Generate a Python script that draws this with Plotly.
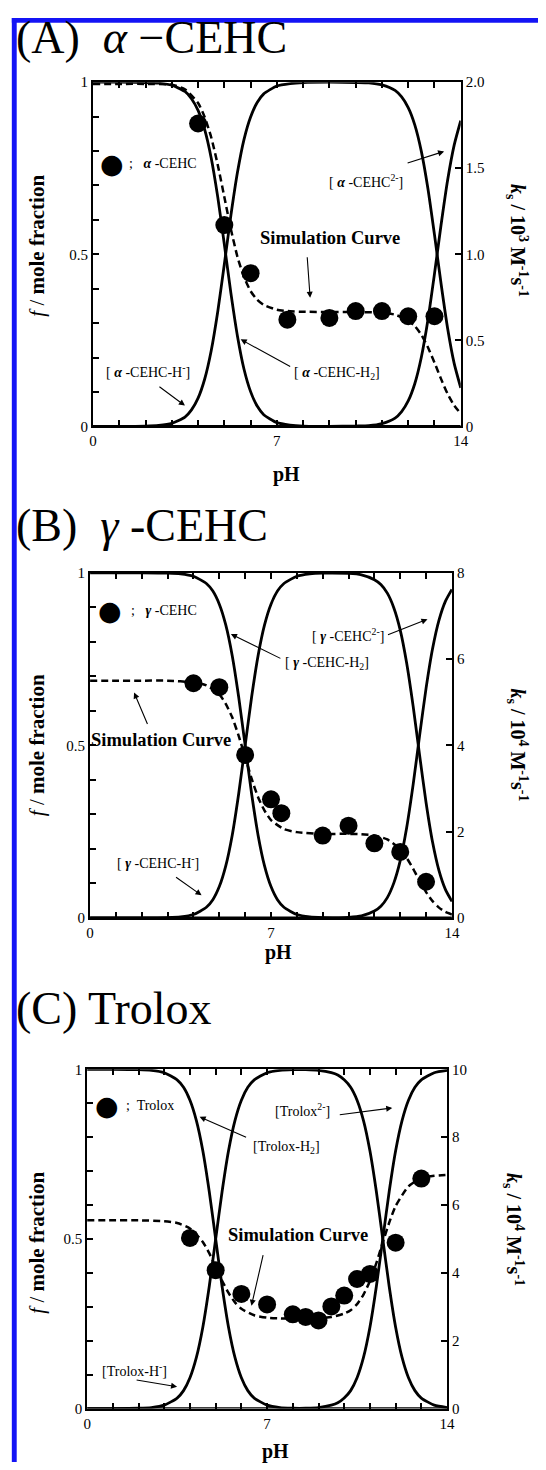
import plotly.graph_objects as go

W, H = 546, 1470
SERIF = "Liberation Serif"

# ---------------- Panel A: alpha-CEHC ----------------
A_grid = [0, 1, 2, 2.5, 3, 3.5, 3.75, 4, 4.25, 4.5, 4.75, 5, 5.25, 5.5, 5.75, 6, 6.25, 6.5, 7, 7.5, 8, 9,
          10, 10.5, 11, 11.5, 11.75, 12, 12.25, 12.5, 12.75, 13, 13.25, 13.5, 13.75, 14]
A_H2 = [1.0, 1.0, 0.999, 0.997, 0.991, 0.973, 0.952, 0.918, 0.863, 0.780, 0.666, 0.529, 0.387, 0.262, 0.166,
        0.101, 0.059, 0.034, 0.011, 0.004, 0.001, 0, 0, 0, 0, 0, 0, 0, 0, 0, 0, 0, 0, 0, 0, 0]
A_Hm = [0, 0, 0.001, 0.003, 0.009, 0.027, 0.048, 0.082, 0.137, 0.220, 0.334, 0.471, 0.613, 0.738, 0.834,
        0.899, 0.941, 0.966, 0.989, 0.996, 0.999, 1.0, 0.999, 0.998, 0.992, 0.976, 0.957, 0.926, 0.876,
        0.799, 0.691, 0.557, 0.415, 0.285, 0.183, 0.112]
A_2m = [0, 0, 0, 0, 0, 0, 0, 0, 0, 0, 0, 0, 0, 0, 0, 0, 0, 0, 0, 0, 0, 0, 0.001, 0.002, 0.008, 0.024, 0.043,
        0.074, 0.124, 0.201, 0.309, 0.443, 0.585, 0.715, 0.817, 0.888]
A_sim_ph = [0, 1, 2, 3, 3.5, 4, 4.25, 4.5, 4.75, 5, 5.25, 5.5, 5.75, 6, 6.25, 6.5, 7, 7.5, 8, 9, 10, 11,
            11.5, 12, 12.25, 12.5, 12.75, 13, 13.25, 13.5, 13.75, 14]
A_sim_k = [1.99, 1.99, 1.99, 1.985, 1.959, 1.879, 1.798, 1.680, 1.519, 1.333, 1.146, 0.985, 0.867, 0.786,
           0.736, 0.706, 0.678, 0.669, 0.666, 0.665, 0.665, 0.660, 0.649, 0.616, 0.583, 0.532, 0.460,
           0.371, 0.276, 0.189, 0.122, 0.074]
A_ph = [4, 5, 6, 7.4, 9, 10, 11, 12, 13]
A_k = [1.76, 1.17, 0.89, 0.62, 0.63, 0.67, 0.67, 0.64, 0.64]

# ---------------- Panel B: gamma-CEHC ----------------
B_grid = [0, 1, 2, 3, 3.5, 4, 4.5, 4.75, 5, 5.25, 5.5, 5.75, 6, 6.25, 6.5, 6.75, 7, 7.25, 7.5, 8, 8.5, 9,
          10, 10.5, 11, 11.25, 11.5, 11.75, 12, 12.25, 12.5, 12.75, 13, 13.25, 13.5, 13.75, 14]
B_H2 = [1.0, 1.0, 1.0, 0.999, 0.997, 0.990, 0.969, 0.947, 0.909, 0.849, 0.760, 0.640, 0.5, 0.360, 0.240,
        0.151, 0.091, 0.053, 0.031, 0.010, 0.003, 0.001, 0, 0, 0, 0, 0, 0, 0, 0, 0, 0, 0, 0, 0, 0, 0]
B_Hm = [0, 0, 0, 0.001, 0.003, 0.010, 0.031, 0.053, 0.091, 0.151, 0.240, 0.360, 0.5, 0.640, 0.760, 0.849,
        0.909, 0.947, 0.969, 0.990, 0.997, 0.999, 0.998, 0.994, 0.980, 0.966, 0.941, 0.899, 0.834, 0.738,
        0.613, 0.471, 0.334, 0.220, 0.137, 0.082, 0.048]
B_2m = [0, 0, 0, 0, 0, 0, 0, 0, 0, 0, 0, 0, 0, 0, 0, 0, 0, 0, 0, 0, 0, 0, 0.002, 0.006, 0.020, 0.034,
        0.059, 0.101, 0.166, 0.262, 0.387, 0.529, 0.666, 0.780, 0.863, 0.918, 0.952]
B_sim_ph = [0, 1, 2, 3, 4, 4.5, 5, 5.25, 5.5, 5.75, 6, 6.25, 6.5, 6.75, 7, 7.5, 8, 9, 10, 10.5, 11, 11.5,
            12, 12.25, 12.5, 12.75, 13, 13.25, 13.5, 13.75, 14]
B_sim_k = [5.50, 5.50, 5.50, 5.50, 5.46, 5.39, 5.18, 4.96, 4.65, 4.22, 3.73, 3.23, 2.80, 2.49, 2.27, 2.06,
           1.99, 1.95, 1.95, 1.94, 1.91, 1.82, 1.59, 1.39, 1.14, 0.86, 0.60, 0.39, 0.24, 0.14, 0.08]
B_ph = [4, 5, 6, 7, 7.4, 9, 10, 11, 12, 13]
B_k = [5.44, 5.35, 3.78, 2.75, 2.43, 1.91, 2.14, 1.73, 1.53, 0.84]

# ---------------- Panel C: Trolox ----------------
C_grid = [0, 1, 2, 2.5, 3, 3.5, 3.75, 4, 4.25, 4.5, 4.75, 5, 5.25, 5.5, 5.75, 6, 6.25, 6.5, 7, 7.5, 8, 8.5,
          9, 9.5, 9.75, 10, 10.25, 10.5, 10.75, 11, 11.25, 11.5, 11.75, 12, 12.25, 12.5, 12.75, 13, 13.5, 14]
C_H2 = [1.0, 1.0, 0.999, 0.997, 0.990, 0.969, 0.947, 0.909, 0.849, 0.760, 0.640, 0.5, 0.360, 0.240, 0.151,
        0.091, 0.053, 0.031, 0.010, 0.003, 0.001, 0, 0, 0, 0, 0, 0, 0, 0, 0, 0, 0, 0, 0, 0, 0, 0, 0, 0, 0]
C_Hm = [0, 0, 0.001, 0.003, 0.010, 0.031, 0.053, 0.091, 0.151, 0.240, 0.360, 0.5, 0.640, 0.760, 0.849,
        0.909, 0.947, 0.969, 0.990, 0.997, 0.999, 0.999, 0.997, 0.990, 0.983, 0.969, 0.947, 0.909, 0.849,
        0.760, 0.640, 0.5, 0.360, 0.240, 0.151, 0.091, 0.053, 0.031, 0.010, 0.003]
C_2m = [0, 0, 0, 0, 0, 0, 0, 0, 0, 0, 0, 0, 0, 0, 0, 0, 0, 0, 0, 0, 0, 0.001, 0.003, 0.010, 0.017, 0.031,
        0.053, 0.091, 0.151, 0.240, 0.360, 0.5, 0.640, 0.760, 0.849, 0.909, 0.947, 0.969, 0.990, 0.997]
C_sim_ph = [0, 1, 2, 3, 3.5, 4, 4.5, 4.75, 5, 5.25, 5.5, 5.75, 6, 6.5, 7, 7.5, 8, 8.5, 9, 9.5, 10, 10.25,
            10.5, 10.75, 11, 11.25, 11.5, 11.75, 12, 12.5, 13, 13.5, 14]
C_sim_k = [5.55, 5.55, 5.55, 5.52, 5.47, 5.31, 4.91, 4.58, 4.18, 3.77, 3.41, 3.13, 2.94, 2.75, 2.68, 2.66,
           2.65, 2.65, 2.66, 2.70, 2.80, 2.90, 3.08, 3.36, 3.76, 4.29, 4.90, 5.48, 5.97, 6.55, 6.79, 6.86,
           6.89]
C_ph = [4, 5, 6, 7, 8, 8.5, 9, 9.5, 10, 10.5, 11, 12, 13]
C_k = [5.03, 4.08, 3.38, 3.07, 2.78, 2.70, 2.60, 3.01, 3.33, 3.82, 3.97, 4.89, 6.78]

# ---------------- layout geometry (pixels) ----------------
panels = [
    dict(box=(91, 467, 75, 423), kmax=2.0, kticks=[0, 0.5, 1.0, 1.5, 2.0],
         ktext=["0", "0.5", "1.0", "1.5", "2.0"],
         grid=A_grid, H2=A_H2, Hm=A_Hm, D=A_2m, sph=A_sim_ph, sk=A_sim_k, ph=A_ph, k=A_k),
    dict(box=(88, 458, 571, 920), kmax=8, kticks=[0, 2, 4, 6, 8],
         ktext=["0", "2", "4", "6", "8"],
         grid=B_grid, H2=B_H2, Hm=B_Hm, D=B_2m, sph=B_sim_ph, sk=B_sim_k, ph=B_ph, k=B_k),
    dict(box=(85, 453, 1073, 1416), kmax=10, kticks=[0, 2, 4, 6, 8, 10],
         ktext=["0", "2", "4", "6", "8", "10"],
         grid=C_grid, H2=C_H2, Hm=C_Hm, D=C_2m, sph=C_sim_ph, sk=C_sim_k, ph=C_ph, k=C_k),
]


def px(x):
    return x / W


def py(y):
    return 1 - y / H


fig = go.Figure()
layout = dict(width=W, height=H, margin=dict(l=0, r=0, t=0, b=0), paper_bgcolor="white",
              plot_bgcolor="white", showlegend=False, font=dict(family=SERIF, color="black"))

tickfont = dict(family=SERIF, size=15, color="black")
for i, p in enumerate(panels):
    xn = "x" if i == 0 else f"x{i + 1}"
    yf = 2 * i + 1
    yk = 2 * i + 2
    yfn = "y" if yf == 1 else f"y{yf}"
    ykn = f"y{yk}"
    x0, x1, y0, y1 = p["box"]
    layout["xaxis" + ("" if i == 0 else str(i + 1))] = dict(
        domain=[px(x0), px(x1)], anchor=yfn, range=[0, 14], showgrid=False, zeroline=False,
        showline=True, linecolor="black", linewidth=2, mirror="ticks", ticks="inside", ticklen=6,
        tickwidth=1.5, tickcolor="black", tickvals=list(range(15)),
        ticktext=["0" if v == 0 else "7" if v == 7 else "14" if v == 14 else "" for v in range(15)],
        tickfont=tickfont, fixedrange=True)
    layout["yaxis" + ("" if yf == 1 else str(yf))] = dict(
        domain=[py(y1), py(y0)], anchor=xn, range=[0, 1], showgrid=False, zeroline=False,
        showline=True, linecolor="black", linewidth=2, ticks="inside", ticklen=6, tickwidth=1.5,
        tickcolor="black", tickvals=[j / 10 for j in range(11)],
        ticktext=["0" if j == 0 else "0.5" if j == 5 else "1" if j == 10 else "" for j in range(11)],
        tickfont=tickfont, fixedrange=True)
    layout["yaxis" + str(yk)] = dict(
        domain=[py(y1), py(y0)], anchor=xn, overlaying=yfn, side="right", range=[0, p["kmax"]],
        showgrid=False, zeroline=False, showline=True, linecolor="black", linewidth=2,
        ticks="inside", ticklen=6, tickwidth=1.5, tickcolor="black", tickvals=p["kticks"],
        ticktext=p["ktext"], tickfont=tickfont, fixedrange=True)

    for arr in (p["H2"], p["Hm"], p["D"]):
        fig.add_trace(go.Scatter(x=p["grid"], y=arr, mode="lines", xaxis=xn, yaxis=yfn,
                                 line=dict(color="black", width=2.8, shape="spline", smoothing=0.6),
                                 hoverinfo="skip"))
    fig.add_trace(go.Scatter(x=p["sph"], y=p["sk"], mode="lines", xaxis=xn, yaxis=ykn,
                             line=dict(color="black", width=2.5, dash="7px,4px", shape="spline",
                                       smoothing=0.6), hoverinfo="skip"))
    fig.add_trace(go.Scatter(x=p["ph"], y=p["k"], mode="markers", xaxis=xn, yaxis=ykn,
                             marker=dict(color="black", size=18, line=dict(width=0))))

fig.update_layout(**layout)

ann = []


def text(t, x, y, size=14, xanchor="center", angle=0, family=SERIF):
    ann.append(dict(text=t, x=px(x), y=py(y), xref="paper", yref="paper", showarrow=False,
                    xanchor=xanchor, yanchor="middle", textangle=angle,
                    font=dict(family=family, size=size, color="black")))


def arrow(tx, ty, hx, hy):
    ann.append(dict(text="", x=px(hx), y=py(hy), xref="paper", yref="paper", showarrow=True,
                    ax=tx - hx, ay=ty - hy, arrowhead=2, arrowsize=1.1, arrowwidth=1.1,
                    arrowcolor="black"))


# titles
text("(A)  <i>α</i> −CEHC", 10, 30, size=46, xanchor="left")
text("(B)  <i>γ</i> -CEHC", 10, 523, size=46, xanchor="left")
text("(C) Trolox", 10, 1012, size=46, xanchor="left")

# axis titles
for cy in (240, 745, 1248):
    text("<i>f</i> / <b>mole fraction</b>", 34, cy, size=21, angle=-90)
for (ky, kx, kexp) in [(235, 524, "3"), (745, 525, "4"), (1235, 521, "4")]:
    text("<b><i>k</i><sub>s</sub> / 10<sup>%s</sup> M<sup>-1</sup>s<sup>-1</sup></b>" % kexp, kx, ky,
         size=20, angle=90)
text("<b>pH</b>", 289, 472, size=20)
text("<b>pH</b>", 281, 955, size=20)
text("<b>pH</b>", 278, 1459, size=20)

DOT = "DejaVu Sans"
# Panel A annotations
text("●", 110, 157, size=27, family=DOT)
text(";   <b><i>α</i></b> -CEHC", 126, 157, size=14, xanchor="left")
text("<b>Simulation Curve</b>", 333, 233, size=18.5)
arrow(310, 251, 313, 293)
text("[ <b><i>α</i></b> -CEHC<sup>2-</sup>]", 370, 175, size=14)
arrow(412, 157, 450, 145)
text("[ <b><i>α</i></b> -CEHC-H<sup>-</sup>]", 147, 367, size=14)
arrow(158, 382, 185, 402)
text("[ <b><i>α</i></b> -CEHC-H<sub>2</sub>]", 340, 370, size=14)
arrow(293, 363, 242, 335)

# Panel B annotations
text("●", 108, 609, size=27, family=DOT)
text(";   <b><i>γ</i></b> -CEHC", 128, 609, size=14, xanchor="left")
text("[ <b><i>γ</i></b> -CEHC<sup>2-</sup>]", 352, 634, size=14)
arrow(392, 634, 433, 618)
text("[ <b><i>γ</i></b> -CEHC-H<sub>2</sub>]", 330, 663, size=14)
arrow(283, 658, 232, 633)
text("<b>Simulation Curve</b>", 161, 740, size=18.5)
arrow(147, 725, 133, 692)
text("[ <b><i>γ</i></b> -CEHC-H<sup>-</sup>]", 157, 863, size=14)
arrow(175, 878, 202, 897)

# Panel C annotations
text("●", 105, 1110, size=27, family=DOT)
text(";  Trolox", 123, 1110, size=14, xanchor="left")
text("[Trolox<sup>2-</sup>]", 305, 1114, size=14)
arrow(343, 1119, 397, 1112)
text("[Trolox-H<sub>2</sub>]", 289, 1152, size=14)
arrow(248, 1142, 200, 1121)
text("<b>Simulation Curve</b>", 301, 1240, size=18.5)
arrow(265, 1260, 253, 1312)
text("[Trolox-H<sup>-</sup>]", 133, 1377, size=14)
arrow(135, 1387, 177, 1394)

fig.update_layout(annotations=ann)

# blue border (top and left edges)
BLUE = "rgb(20,20,245)"
fig.update_layout(shapes=[
    dict(type="rect", xref="paper", yref="paper", x0=px(8), x1=1.0, y0=py(15), y1=py(10),
         fillcolor=BLUE, line=dict(width=0), layer="above"),
    dict(type="rect", xref="paper", yref="paper", x0=px(8), x1=px(13), y0=0, y1=py(10),
         fillcolor=BLUE, line=dict(width=0), layer="above"),
])

fig.write_html("out.html")
